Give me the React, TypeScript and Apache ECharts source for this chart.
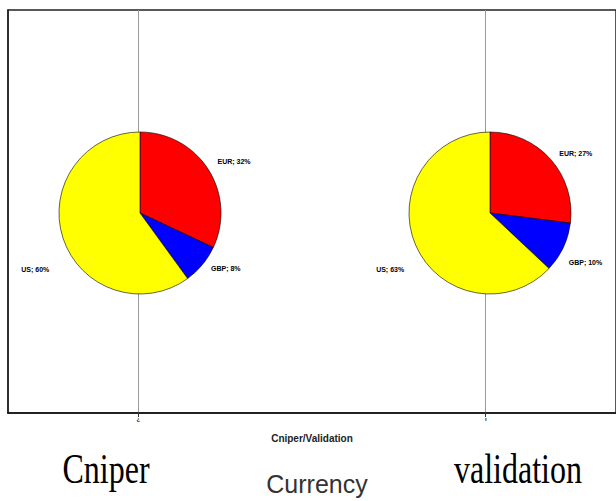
import React, { useEffect, useRef } from "react";
import * as echarts from "echarts";

const currencies = ["EUR", "GBP", "US"];
const cniperShares = [32, 8, 60];
const validationShares = [27, 10, 63];
const groupLabels = ["Cniper", "validation"];
const tickLabels = ["¿", "ı"];
const sliceColors = ["#FF0000", "#0000FF", "#FFFF00"];

export default function App() {
  const ref = useRef<HTMLDivElement>(null);
  useEffect(() => {
    if (!ref.current) return;
    const chart = echarts.init(ref.current, null, { renderer: "svg" });
    // category slots: spacing 43.75px, ticks at slot 3 and 11
    const cats: string[] = [];
    for (let i = 0; i < 15; i++) cats.push("");
    cats[3] = tickLabels[0];
    cats[11] = tickLabels[1];
    const isTick = (idx: number) => idx === 3 || idx === 11;

    const makePie = (vals: number[], cx: number, offsets: number[][]) => ({
      type: "pie",
      center: [cx, 213],
      radius: 81,
      startAngle: 90,
      clockwise: true,
      silent: true,
      data: currencies.map((c, i) => ({
        name: c,
        value: vals[i],
        itemStyle: { color: sliceColors[i] },
        label: { offset: offsets[i] },
      })),
      itemStyle: { borderColor: "#000", borderWidth: 0.6 },
      label: {
        show: true,
        position: "outside",
        formatter: "{b}; {c}%",
        fontSize: 7,
        fontWeight: "bold",
        color: "#000",
        fontFamily: "Liberation Sans",
        distanceToLabelLine: 2,
        overflow: "none",
        edgeDistance: 0,
      },
      labelLine: { show: false, length: 6, length2: 2 },
      emphasis: { disabled: true },
    });

    chart.setOption({
      animation: false,
      backgroundColor: "#fff",
      grid: {
        left: 8,
        top: 10,
        width: 612.5,
        height: 403,
        show: true,
        borderColor: "#222",
        borderWidth: 1.5,
        backgroundColor: "transparent",
      },
      xAxis: {
        type: "category",
        data: cats,
        boundaryGap: false,
        axisLine: { show: true, lineStyle: { color: "#111", width: 1.5 } },
        axisTick: {
          show: true,
          interval: (idx: number) => isTick(idx),
          length: 4,
          lineStyle: { color: "#333" },
        },
        axisLabel: {
          show: true,
          interval: (idx: number) => isTick(idx),
          fontSize: 6,
          fontWeight: "bold",
          color: "#111",
          margin: 3,
        },
        splitLine: {
          show: true,
          interval: (idx: number) => isTick(idx),
          lineStyle: { color: "#9a9a9a", width: 1 },
        },
        name: "Cniper/Validation",
        nameLocation: "middle",
        nameGap: 20,
        nameTextStyle: {
          fontSize: 10,
          fontWeight: "bold",
          color: "#222",
          fontFamily: "Liberation Sans",
          verticalAlign: "top",
        },
      },
      yAxis: {
        type: "value",
        min: 0,
        max: 1,
        axisLine: { show: true, lineStyle: { color: "#222", width: 1.5 } },
        axisTick: { show: false },
        axisLabel: { show: false },
        splitLine: { show: false },
      },
      series: [
        makePie(cniperShares, 140, [[0, -5], [0, 0], [-4, 30]]),
        makePie(validationShares, 490, [[0, -2], [-4, 12], [-2, 22]]),
      ],
      graphic: [
        {
          type: "text",
          x: 106,
          y: 469,
          scaleY: 1.3,
          style: {
            text: groupLabels[0],
            fontFamily: "Liberation Serif",
            fontSize: 32,
            fill: "#000",
            align: "center",
            verticalAlign: "middle",
          },
        },
        {
          type: "text",
          x: 518,
          y: 469,
          scaleY: 1.3,
          style: {
            text: groupLabels[1],
            fontFamily: "Liberation Serif",
            fontSize: 32,
            fill: "#000",
            align: "center",
            verticalAlign: "middle",
          },
        },
        {
          type: "text",
          x: 317,
          y: 484,
          style: {
            text: "Currency",
            fontFamily: "Liberation Sans",
            fontSize: 25,
            fill: "#333",
            align: "center",
            verticalAlign: "middle",
          },
        },
      ],
    });
    return () => chart.dispose();
  }, []);
  return (
    <div
      ref={ref}
      style={{ position: "fixed", left: 0, top: 0, width: 616, height: 501, background: "#fff" }}
    />
  );
}
